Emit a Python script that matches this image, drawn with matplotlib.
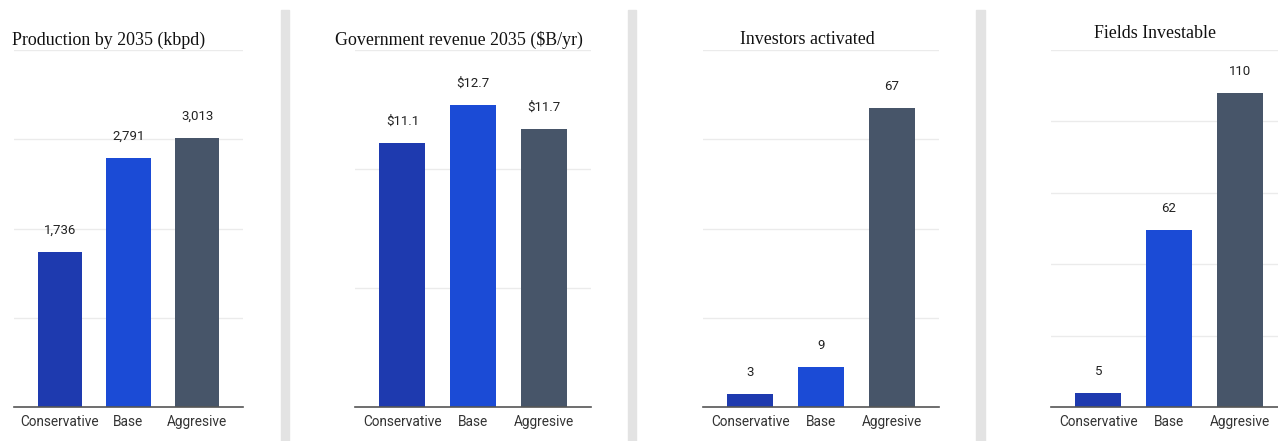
import matplotlib.pyplot as plt
from matplotlib.patches import Rectangle

scenarios = ["Conservative", "Base", "Aggresive"]
production = [1736, 2791, 3013]
revenue = [11.1, 12.7, 11.7]
investors = [3, 9, 67]
fields = [5, 62, 110]

titles = ["Production by 2035 (kbpd)", "Government revenue 2035 ($B/yr)",
          "Investors activated", "Fields Investable"]
label_fmt = [lambda v: f"{v:,.0f}", lambda v: f"${v:.1f}",
             lambda v: f"{v:.0f}", lambda v: f"{v:.0f}"]
y_max = [4000, 15, 80, 125]
y_step = [1000, 5, 20, 25]

bar_colors = ["#1e3aaf", "#1b4bd6", "#475569"]

W, H = 1278, 441
fig = plt.figure(figsize=(W / 100, H / 100), dpi=100)

# axes boxes in pixels: (left, right)
ax_px = [(14, 243), (355, 591), (703, 939), (1051, 1287)]
top_px, bot_px = 50, 407
# title anchors in pixels: (x, y, ha)
title_px = [(12, 40, "left"), (459, 40, "center"), (807, 40, "center"), (1155, 34, "center")]

# light grey card separators
for x0, x1 in [(281, 289), (628, 636), (976, 985)]:
    fig.patches.append(Rectangle((x0 / W, 0), (x1 - x0) / W, 1 - 10 / H,
                                 transform=fig.transFigure, color="#e3e3e3", zorder=0))

series = [production, revenue, investors, fields]
for i, vals in enumerate(series):
    l, r = ax_px[i]
    ax = fig.add_axes([l / W, 1 - bot_px / H, (r - l) / W, (bot_px - top_px) / H])
    ax.set_facecolor("none")
    x = range(len(scenarios))
    ax.bar(x, vals, width=0.65, color=bar_colors, zorder=3)
    for xi, v in zip(x, vals):
        ax.annotate(label_fmt[i](v), (xi, v), xytext=(0, 15.5), textcoords="offset points",
                    ha="center", va="center", fontsize=9.5, family="Roboto", color="#222222")
    ax.set_xlim(-0.67, 2.67)
    ax.set_ylim(0, y_max[i])
    ax.set_yticks([y_step[i] * k for k in range(1, int(y_max[i] / y_step[i]) + 1)])
    ax.yaxis.grid(True, color="#ebebeb", lw=1)
    ax.set_axisbelow(True)
    ax.tick_params(axis="y", length=0, labelleft=False)
    ax.set_xticks(list(x))
    ax.set_xticklabels(scenarios, fontsize=9.8, family="Roboto", color="#333333")
    ax.tick_params(axis="x", length=0, pad=5.5)
    for s in ["top", "left", "right"]:
        ax.spines[s].set_visible(False)
    ax.spines["bottom"].set_color("#555555")
    ax.spines["bottom"].set_linewidth(1.2)
    ax.spines["bottom"].set_zorder(4)

    tx, ty, ha = title_px[i]
    fig.text(tx / W, 1 - ty / H, titles[i], ha=ha, va="center",
             family="Liberation Serif", fontsize=12.9, color="#111111")

fig.savefig("out.png", dpi=100)
